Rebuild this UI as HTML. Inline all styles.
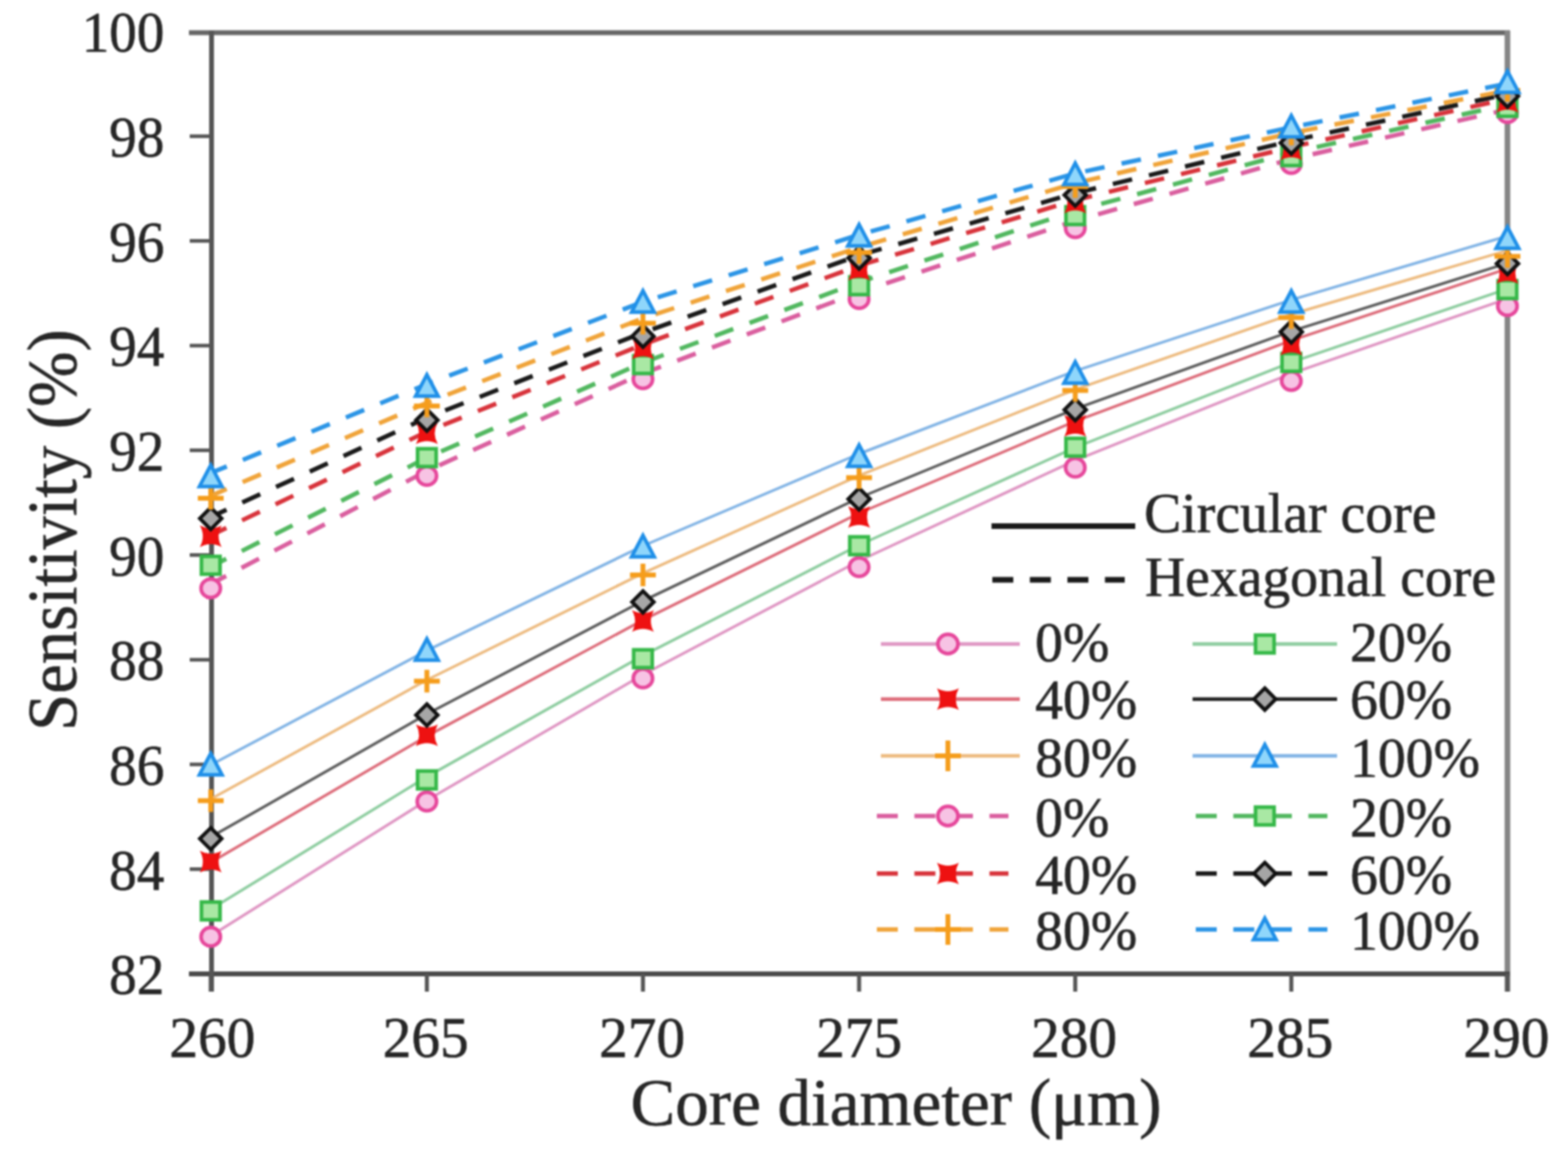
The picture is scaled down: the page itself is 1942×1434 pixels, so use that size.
<!DOCTYPE html>
<html><head><meta charset="utf-8"><title>Sensitivity vs core diameter</title>
<style>html,body{margin:0;padding:0;background:#fff;}svg{display:block;filter:blur(0.9px);}</style></head>
<body><svg width="1942" height="1434" viewBox="0 0 1942 1434"><g fill="none"><line x1="234" y1="40.5" x2="1870" y2="40.5" stroke="#666" stroke-width="6"/><line x1="1867" y1="38" x2="1867" y2="1228" stroke="#858585" stroke-width="7"/><line x1="234" y1="1206" x2="1870" y2="1206" stroke="#4a4a4a" stroke-width="6"/><line x1="262" y1="38" x2="262" y2="1228" stroke="#555" stroke-width="6"/><line x1="235" y1="168.7" x2="261" y2="168.7" stroke="#555" stroke-width="4.5"/><line x1="235" y1="298.3" x2="261" y2="298.3" stroke="#555" stroke-width="4.5"/><line x1="235" y1="428.0" x2="261" y2="428.0" stroke="#555" stroke-width="4.5"/><line x1="235" y1="557.6" x2="261" y2="557.6" stroke="#555" stroke-width="4.5"/><line x1="235" y1="687.3" x2="261" y2="687.3" stroke="#555" stroke-width="4.5"/><line x1="235" y1="817.0" x2="261" y2="817.0" stroke="#555" stroke-width="4.5"/><line x1="235" y1="946.6" x2="261" y2="946.6" stroke="#555" stroke-width="4.5"/><line x1="235" y1="1076.3" x2="261" y2="1076.3" stroke="#555" stroke-width="4.5"/><line x1="261.0" y1="1206" x2="261.0" y2="1228" stroke="#555" stroke-width="5"/><line x1="528.7" y1="1206" x2="528.7" y2="1228" stroke="#555" stroke-width="5"/><line x1="796.3" y1="1206" x2="796.3" y2="1228" stroke="#555" stroke-width="5"/><line x1="1064.0" y1="1206" x2="1064.0" y2="1228" stroke="#555" stroke-width="5"/><line x1="1331.7" y1="1206" x2="1331.7" y2="1228" stroke="#555" stroke-width="5"/><line x1="1599.3" y1="1206" x2="1599.3" y2="1228" stroke="#555" stroke-width="5"/><line x1="1867.0" y1="1206" x2="1867.0" y2="1228" stroke="#555" stroke-width="5"/></g><polyline points="261.0,1159.0 528.7,991.0 796.3,835.5 1064.0,694.5 1331.7,570.1 1599.3,462.7 1867.0,369.8" fill="none" stroke="#df96c3" stroke-width="3.5" stroke-linejoin="round"/><polyline points="261.0,1125.9 528.7,961.9 796.3,811.9 1064.0,675.0 1331.7,554.2 1599.3,448.6 1867.0,357.7" fill="none" stroke="#8ecda0" stroke-width="3.5" stroke-linejoin="round"/><polyline points="261.0,1067.9 528.7,911.6 796.3,767.9 1064.0,635.5 1331.7,521.7 1599.3,421.7 1867.0,332.7" fill="none" stroke="#dd6c7a" stroke-width="3.5" stroke-linejoin="round"/><polyline points="261.0,1036.6 528.7,884.3 796.3,744.1 1064.0,616.5 1331.7,506.4 1599.3,410.1 1867.0,325.9" fill="none" stroke="#5e5e5e" stroke-width="3.5" stroke-linejoin="round"/><polyline points="261.0,989.5 528.7,842.0 796.3,709.9 1064.0,588.9 1331.7,482.4 1599.3,389.2 1867.0,310.1" fill="none" stroke="#edbb80" stroke-width="3.5" stroke-linejoin="round"/><polyline points="261.0,947.2 528.7,805.6 796.3,676.0 1064.0,562.0 1331.7,459.3 1599.3,371.4 1867.0,292.3" fill="none" stroke="#82b4e5" stroke-width="3.5" stroke-linejoin="round"/><polyline points="261.0,723.2 528.7,583.1 796.3,462.5 1064.0,361.9 1331.7,273.5 1599.3,197.0 1867.0,135.7" fill="none" stroke="#da5f9f" stroke-width="5.5" stroke-dasharray="24.5 21.5" stroke-dashoffset="3"/><polyline points="261.0,701.7 528.7,566.8 796.3,449.1 1064.0,349.4 1331.7,261.1 1599.3,189.1 1867.0,129.4" fill="none" stroke="#52b860" stroke-width="5.5" stroke-dasharray="24.5 21.5" stroke-dashoffset="3"/><polyline points="261.0,663.0 528.7,534.5 796.3,426.6 1064.0,328.9 1331.7,247.8 1599.3,182.2 1867.0,122.3" fill="none" stroke="#d8343c" stroke-width="5.5" stroke-dasharray="24.5 21.5" stroke-dashoffset="3"/><polyline points="261.0,640.3 528.7,517.2 796.3,411.9 1064.0,316.2 1331.7,239.2 1599.3,174.4 1867.0,116.5" fill="none" stroke="#1a1a1a" stroke-width="5.5" stroke-dasharray="24.5 21.5" stroke-dashoffset="3"/><polyline points="261.0,614.1 528.7,498.8 796.3,394.2 1064.0,306.3 1331.7,226.8 1599.3,164.8 1867.0,112.0" fill="none" stroke="#f0a43a" stroke-width="5.5" stroke-dasharray="24.5 21.5" stroke-dashoffset="3"/><polyline points="261.0,585.8 528.7,475.7 796.3,373.8 1064.0,290.8 1331.7,214.8 1599.3,157.7 1867.0,103.4" fill="none" stroke="#2c95e6" stroke-width="5.5" stroke-dasharray="24.5 21.5" stroke-dashoffset="3"/><ellipse cx="261.0" cy="1160.0" rx="12" ry="11.5" fill="#f7c3e4" stroke="#e6479b" stroke-width="4.5"/><ellipse cx="528.7" cy="992.6" rx="12" ry="11.5" fill="#f7c3e4" stroke="#e6479b" stroke-width="4.5"/><ellipse cx="796.3" cy="840.0" rx="12" ry="11.5" fill="#f7c3e4" stroke="#e6479b" stroke-width="4.5"/><ellipse cx="1064.0" cy="702.3" rx="12" ry="11.5" fill="#f7c3e4" stroke="#e6479b" stroke-width="4.5"/><ellipse cx="1331.7" cy="579.0" rx="12" ry="11.5" fill="#f7c3e4" stroke="#e6479b" stroke-width="4.5"/><ellipse cx="1599.3" cy="471.8" rx="12" ry="11.5" fill="#f7c3e4" stroke="#e6479b" stroke-width="4.5"/><ellipse cx="1867.0" cy="379.0" rx="12" ry="11.5" fill="#f7c3e4" stroke="#e6479b" stroke-width="4.5"/><rect x="249.5" y="1117.0" width="23" height="22" fill="#a9e8a4" stroke="#35b848" stroke-width="4.5"/><rect x="517.2" y="954.8" width="23" height="22" fill="#a9e8a4" stroke="#35b848" stroke-width="4.5"/><rect x="784.8" y="804.7" width="23" height="22" fill="#a9e8a4" stroke="#35b848" stroke-width="4.5"/><rect x="1052.5" y="664.8" width="23" height="22" fill="#a9e8a4" stroke="#35b848" stroke-width="4.5"/><rect x="1320.2" y="542.8" width="23" height="22" fill="#a9e8a4" stroke="#35b848" stroke-width="4.5"/><rect x="1587.8" y="437.8" width="23" height="22" fill="#a9e8a4" stroke="#35b848" stroke-width="4.5"/><rect x="1855.5" y="347.6" width="23" height="22" fill="#a9e8a4" stroke="#35b848" stroke-width="4.5"/><path d="M247.5 1053.4Q261.0 1060.9 274.5 1053.4Q267.0 1066.9 274.5 1080.4Q261.0 1072.9 247.5 1080.4Q255.0 1066.9 247.5 1053.4Z" fill="#ee1111"/><path d="M515.2 897.0Q528.7 904.5 542.2 897.0Q534.7 910.5 542.2 924.0Q528.7 916.5 515.2 924.0Q522.7 910.5 515.2 897.0Z" fill="#ee1111"/><path d="M782.8 755.4Q796.3 762.9 809.8 755.4Q802.3 768.9 809.8 782.4Q796.3 774.9 782.8 782.4Q790.3 768.9 782.8 755.4Z" fill="#ee1111"/><path d="M1050.5 626.7Q1064.0 634.2 1077.5 626.7Q1070.0 640.2 1077.5 653.7Q1064.0 646.2 1050.5 653.7Q1058.0 640.2 1050.5 626.7Z" fill="#ee1111"/><path d="M1318.2 513.8Q1331.7 521.3 1345.2 513.8Q1337.7 527.3 1345.2 540.8Q1331.7 533.3 1318.2 540.8Q1325.7 527.3 1318.2 513.8Z" fill="#ee1111"/><path d="M1585.8 413.3Q1599.3 420.8 1612.8 413.3Q1605.3 426.8 1612.8 440.3Q1599.3 432.8 1585.8 440.3Q1593.3 426.8 1585.8 413.3Z" fill="#ee1111"/><path d="M1853.5 324.5Q1867.0 332.0 1880.5 324.5Q1873.0 338.0 1880.5 351.5Q1867.0 344.0 1853.5 351.5Q1861.0 338.0 1853.5 324.5Z" fill="#ee1111"/><path d="M261.0 1025.1L274.5 1038.6L261.0 1052.1L247.5 1038.6Z" fill="#a6a6a6" stroke="#111111" stroke-width="4.5"/><path d="M528.7 871.9L542.2 885.4L528.7 898.9L515.2 885.4Z" fill="#a6a6a6" stroke="#111111" stroke-width="4.5"/><path d="M796.3 731.9L809.8 745.4L796.3 758.9L782.8 745.4Z" fill="#a6a6a6" stroke="#111111" stroke-width="4.5"/><path d="M1064.0 604.4L1077.5 617.9L1064.0 631.4L1050.5 617.9Z" fill="#a6a6a6" stroke="#111111" stroke-width="4.5"/><path d="M1331.7 493.9L1345.2 507.4L1331.7 520.9L1318.2 507.4Z" fill="#a6a6a6" stroke="#111111" stroke-width="4.5"/><path d="M1599.3 397.5L1612.8 411.0L1599.3 424.5L1585.8 411.0Z" fill="#a6a6a6" stroke="#111111" stroke-width="4.5"/><path d="M1867.0 312.9L1880.5 326.4L1867.0 339.9L1853.5 326.4Z" fill="#a6a6a6" stroke="#111111" stroke-width="4.5"/><path d="M245.0 991.6H277.0M261.0 977.6V1005.6" stroke="#f59d1c" stroke-width="6"/><path d="M512.7 843.6H544.7M528.7 829.6V857.6" stroke="#f59d1c" stroke-width="6"/><path d="M780.3 712.0H812.3M796.3 698.0V726.0" stroke="#f59d1c" stroke-width="6"/><path d="M1048.0 591.4H1080.0M1064.0 577.4V605.4" stroke="#f59d1c" stroke-width="6"/><path d="M1315.7 483.6H1347.7M1331.7 469.6V497.6" stroke="#f59d1c" stroke-width="6"/><path d="M1583.3 393.3H1615.3M1599.3 379.3V407.3" stroke="#f59d1c" stroke-width="6"/><path d="M1851.0 317.6H1883.0M1867.0 303.6V331.6" stroke="#f59d1c" stroke-width="6"/><path d="M261.0 933.0L275.0 959.5L247.0 959.5Z" fill="#8fd6fb" stroke="#1f8fe8" stroke-width="4.5" stroke-linejoin="miter"/><path d="M528.7 791.0L542.7 817.5L514.7 817.5Z" fill="#8fd6fb" stroke="#1f8fe8" stroke-width="4.5" stroke-linejoin="miter"/><path d="M796.3 663.0L810.3 689.5L782.3 689.5Z" fill="#8fd6fb" stroke="#1f8fe8" stroke-width="4.5" stroke-linejoin="miter"/><path d="M1064.0 551.0L1078.0 577.5L1050.0 577.5Z" fill="#8fd6fb" stroke="#1f8fe8" stroke-width="4.5" stroke-linejoin="miter"/><path d="M1331.7 448.0L1345.7 474.5L1317.7 474.5Z" fill="#8fd6fb" stroke="#1f8fe8" stroke-width="4.5" stroke-linejoin="miter"/><path d="M1599.3 360.0L1613.3 386.5L1585.3 386.5Z" fill="#8fd6fb" stroke="#1f8fe8" stroke-width="4.5" stroke-linejoin="miter"/><path d="M1867.0 281.0L1881.0 307.5L1853.0 307.5Z" fill="#8fd6fb" stroke="#1f8fe8" stroke-width="4.5" stroke-linejoin="miter"/><ellipse cx="261.0" cy="728.6" rx="12" ry="11.5" fill="#f7c3e4" stroke="#e6479b" stroke-width="4.5"/><ellipse cx="528.7" cy="589.3" rx="12" ry="11.5" fill="#f7c3e4" stroke="#e6479b" stroke-width="4.5"/><ellipse cx="796.3" cy="469.4" rx="12" ry="11.5" fill="#f7c3e4" stroke="#e6479b" stroke-width="4.5"/><ellipse cx="1064.0" cy="370.3" rx="12" ry="11.5" fill="#f7c3e4" stroke="#e6479b" stroke-width="4.5"/><ellipse cx="1331.7" cy="282.4" rx="12" ry="11.5" fill="#f7c3e4" stroke="#e6479b" stroke-width="4.5"/><ellipse cx="1599.3" cy="203.0" rx="12" ry="11.5" fill="#f7c3e4" stroke="#e6479b" stroke-width="4.5"/><ellipse cx="1867.0" cy="140.0" rx="12" ry="11.5" fill="#f7c3e4" stroke="#e6479b" stroke-width="4.5"/><rect x="249.5" y="689.0" width="23" height="22" fill="#a9e8a4" stroke="#35b848" stroke-width="4.5"/><rect x="517.2" y="555.7" width="23" height="22" fill="#a9e8a4" stroke="#35b848" stroke-width="4.5"/><rect x="784.8" y="440.5" width="23" height="22" fill="#a9e8a4" stroke="#35b848" stroke-width="4.5"/><rect x="1052.5" y="342.8" width="23" height="22" fill="#a9e8a4" stroke="#35b848" stroke-width="4.5"/><rect x="1320.2" y="256.0" width="23" height="22" fill="#a9e8a4" stroke="#35b848" stroke-width="4.5"/><rect x="1587.8" y="183.0" width="23" height="22" fill="#a9e8a4" stroke="#35b848" stroke-width="4.5"/><rect x="1855.5" y="122.0" width="23" height="22" fill="#a9e8a4" stroke="#35b848" stroke-width="4.5"/><path d="M247.5 650.5Q261.0 658.0 274.5 650.5Q267.0 664.0 274.5 677.5Q261.0 670.0 247.5 677.5Q255.0 664.0 247.5 650.5Z" fill="#ee1111"/><path d="M515.2 523.1Q528.7 530.6 542.2 523.1Q534.7 536.6 542.2 550.1Q528.7 542.6 515.2 550.1Q522.7 536.6 515.2 523.1Z" fill="#ee1111"/><path d="M782.8 417.9Q796.3 425.4 809.8 417.9Q802.3 431.4 809.8 444.9Q796.3 437.4 782.8 444.9Q790.3 431.4 782.8 417.9Z" fill="#ee1111"/><path d="M1050.5 320.5Q1064.0 328.0 1077.5 320.5Q1070.0 334.0 1077.5 347.5Q1064.0 340.0 1050.5 347.5Q1058.0 334.0 1050.5 320.5Z" fill="#ee1111"/><path d="M1318.2 237.2Q1331.7 244.7 1345.2 237.2Q1337.7 250.7 1345.2 264.2Q1331.7 256.7 1318.2 264.2Q1325.7 250.7 1318.2 237.2Z" fill="#ee1111"/><path d="M1585.8 171.5Q1599.3 179.0 1612.8 171.5Q1605.3 185.0 1612.8 198.5Q1599.3 191.0 1585.8 198.5Q1593.3 185.0 1585.8 171.5Z" fill="#ee1111"/><path d="M1853.5 112.5Q1867.0 120.0 1880.5 112.5Q1873.0 126.0 1880.5 139.5Q1867.0 132.0 1853.5 139.5Q1861.0 126.0 1853.5 112.5Z" fill="#ee1111"/><path d="M261.0 628.5L274.5 642.0L261.0 655.5L247.5 642.0Z" fill="#a6a6a6" stroke="#111111" stroke-width="4.5"/><path d="M528.7 506.8L542.2 520.3L528.7 533.8L515.2 520.3Z" fill="#a6a6a6" stroke="#111111" stroke-width="4.5"/><path d="M796.3 402.9L809.8 416.4L796.3 429.9L782.8 416.4Z" fill="#a6a6a6" stroke="#111111" stroke-width="4.5"/><path d="M1064.0 306.1L1077.5 319.6L1064.0 333.1L1050.5 319.6Z" fill="#a6a6a6" stroke="#111111" stroke-width="4.5"/><path d="M1331.7 228.1L1345.2 241.6L1331.7 255.1L1318.2 241.6Z" fill="#a6a6a6" stroke="#111111" stroke-width="4.5"/><path d="M1599.3 163.5L1612.8 177.0L1599.3 190.5L1585.8 177.0Z" fill="#a6a6a6" stroke="#111111" stroke-width="4.5"/><path d="M1867.0 105.5L1880.5 119.0L1867.0 132.5L1853.5 119.0Z" fill="#a6a6a6" stroke="#111111" stroke-width="4.5"/><path d="M245.0 617.0H277.0M261.0 603.0V631.0" stroke="#f59d1c" stroke-width="6"/><path d="M512.7 502.7H544.7M528.7 488.7V516.7" stroke="#f59d1c" stroke-width="6"/><path d="M780.3 400.2H812.3M796.3 386.2V414.2" stroke="#f59d1c" stroke-width="6"/><path d="M1048.0 312.7H1080.0M1064.0 298.7V326.7" stroke="#f59d1c" stroke-width="6"/><path d="M1315.7 231.0H1347.7M1331.7 217.0V245.0" stroke="#f59d1c" stroke-width="6"/><path d="M1583.3 166.0H1615.3M1599.3 152.0V180.0" stroke="#f59d1c" stroke-width="6"/><path d="M1851.0 112.0H1883.0M1867.0 98.0V126.0" stroke="#f59d1c" stroke-width="6"/><path d="M261.0 576.0L275.0 602.5L247.0 602.5Z" fill="#8fd6fb" stroke="#1f8fe8" stroke-width="4.5" stroke-linejoin="miter"/><path d="M528.7 464.0L542.7 490.5L514.7 490.5Z" fill="#8fd6fb" stroke="#1f8fe8" stroke-width="4.5" stroke-linejoin="miter"/><path d="M796.3 360.0L810.3 386.5L782.3 386.5Z" fill="#8fd6fb" stroke="#1f8fe8" stroke-width="4.5" stroke-linejoin="miter"/><path d="M1064.0 278.0L1078.0 304.5L1050.0 304.5Z" fill="#8fd6fb" stroke="#1f8fe8" stroke-width="4.5" stroke-linejoin="miter"/><path d="M1331.7 202.0L1345.7 228.5L1317.7 228.5Z" fill="#8fd6fb" stroke="#1f8fe8" stroke-width="4.5" stroke-linejoin="miter"/><path d="M1599.3 143.0L1613.3 169.5L1585.3 169.5Z" fill="#8fd6fb" stroke="#1f8fe8" stroke-width="4.5" stroke-linejoin="miter"/><path d="M1867.0 88.0L1881.0 114.5L1853.0 114.5Z" fill="#8fd6fb" stroke="#1f8fe8" stroke-width="4.5" stroke-linejoin="miter"/><line x1="1228" y1="651.5" x2="1406" y2="651.5" stroke="#1a1a1a" stroke-width="7"/><line x1="1229" y1="718" x2="1393" y2="718" stroke="#1a1a1a" stroke-width="7" stroke-dasharray="26 20.5"/><line x1="1091" y1="797.5" x2="1263" y2="797.5" stroke="#df96c3" stroke-width="4.5"/><ellipse cx="1174.0" cy="797.5" rx="12.5" ry="12.0" fill="#f7c3e4" stroke="#e6479b" stroke-width="4.5"/><line x1="1477" y1="797.5" x2="1656" y2="797.5" stroke="#8ecda0" stroke-width="4.5"/><rect x="1555.0" y="786.5" width="23" height="22" fill="#a9e8a4" stroke="#35b848" stroke-width="4.5"/><line x1="1091" y1="865.7" x2="1263" y2="865.7" stroke="#dd6c7a" stroke-width="4.5"/><path d="M1160.5 852.2Q1174.0 859.7 1187.5 852.2Q1180.0 865.7 1187.5 879.2Q1174.0 871.7 1160.5 879.2Q1168.0 865.7 1160.5 852.2Z" fill="#ee1111"/><line x1="1477" y1="865.7" x2="1656" y2="865.7" stroke="#222" stroke-width="4.5"/><path d="M1566.5 852.2L1580.0 865.7L1566.5 879.2L1553.0 865.7Z" fill="#a6a6a6" stroke="#111111" stroke-width="4.5"/><line x1="1091" y1="936" x2="1263" y2="936" stroke="#edbb80" stroke-width="4.5"/><path d="M1158.0 936.0H1190.0M1174.0 917.0V955.0" stroke="#f59d1c" stroke-width="6"/><line x1="1477" y1="936" x2="1656" y2="936" stroke="#82b4e5" stroke-width="4.5"/><path d="M1566.5 922.0L1580.5 948.5L1552.5 948.5Z" fill="#8fd6fb" stroke="#1f8fe8" stroke-width="4.5" stroke-linejoin="miter"/><line x1="1086" y1="1010.5" x2="1249" y2="1010.5" stroke="#da5f9f" stroke-width="5.5" stroke-dasharray="26 20.5"/><ellipse cx="1174.0" cy="1010.5" rx="12.5" ry="12.0" fill="#f7c3e4" stroke="#e6479b" stroke-width="4.5"/><line x1="1481" y1="1010.5" x2="1644" y2="1010.5" stroke="#52b860" stroke-width="5.5" stroke-dasharray="26 20.5"/><rect x="1555.0" y="999.5" width="23" height="22" fill="#a9e8a4" stroke="#35b848" stroke-width="4.5"/><line x1="1086" y1="1081.7" x2="1249" y2="1081.7" stroke="#d8343c" stroke-width="5.5" stroke-dasharray="26 20.5"/><path d="M1160.5 1068.2Q1174.0 1075.7 1187.5 1068.2Q1180.0 1081.7 1187.5 1095.2Q1174.0 1087.7 1160.5 1095.2Q1168.0 1081.7 1160.5 1068.2Z" fill="#ee1111"/><line x1="1481" y1="1081.7" x2="1644" y2="1081.7" stroke="#1a1a1a" stroke-width="5.5" stroke-dasharray="26 20.5"/><path d="M1566.5 1068.2L1580.0 1081.7L1566.5 1095.2L1553.0 1081.7Z" fill="#a6a6a6" stroke="#111111" stroke-width="4.5"/><line x1="1086" y1="1151" x2="1249" y2="1151" stroke="#f0a43a" stroke-width="5.5" stroke-dasharray="26 20.5"/><path d="M1158.0 1151.0H1190.0M1174.0 1132.0V1170.0" stroke="#f59d1c" stroke-width="6"/><line x1="1481" y1="1151" x2="1644" y2="1151" stroke="#2c95e6" stroke-width="5.5" stroke-dasharray="26 20.5"/><path d="M1566.5 1137.0L1580.5 1163.5L1552.5 1163.5Z" fill="#8fd6fb" stroke="#1f8fe8" stroke-width="4.5" stroke-linejoin="miter"/><g fill="#262626" stroke="#262626" stroke-width="0.7"><text x="0" y="64.3" transform="translate(203.5,0) scale(0.96,1)" text-anchor="end" font-size="71" font-family="Liberation Serif, Times New Roman, serif">100</text><text x="0" y="194.0" transform="translate(203.5,0) scale(0.96,1)" text-anchor="end" font-size="71" font-family="Liberation Serif, Times New Roman, serif">98</text><text x="0" y="323.6" transform="translate(203.5,0) scale(0.96,1)" text-anchor="end" font-size="71" font-family="Liberation Serif, Times New Roman, serif">96</text><text x="0" y="453.3" transform="translate(203.5,0) scale(0.96,1)" text-anchor="end" font-size="71" font-family="Liberation Serif, Times New Roman, serif">94</text><text x="0" y="582.9" transform="translate(203.5,0) scale(0.96,1)" text-anchor="end" font-size="71" font-family="Liberation Serif, Times New Roman, serif">92</text><text x="0" y="712.6" transform="translate(203.5,0) scale(0.96,1)" text-anchor="end" font-size="71" font-family="Liberation Serif, Times New Roman, serif">90</text><text x="0" y="842.3" transform="translate(203.5,0) scale(0.96,1)" text-anchor="end" font-size="71" font-family="Liberation Serif, Times New Roman, serif">88</text><text x="0" y="971.9" transform="translate(203.5,0) scale(0.96,1)" text-anchor="end" font-size="71" font-family="Liberation Serif, Times New Roman, serif">86</text><text x="0" y="1101.6" transform="translate(203.5,0) scale(0.96,1)" text-anchor="end" font-size="71" font-family="Liberation Serif, Times New Roman, serif">84</text><text x="0" y="1231.2" transform="translate(203.5,0) scale(0.96,1)" text-anchor="end" font-size="71" font-family="Liberation Serif, Times New Roman, serif">82</text><text x="263.0" y="1309" text-anchor="middle" font-size="71" font-family="Liberation Serif, Times New Roman, serif">260</text><text x="527.2" y="1309" text-anchor="middle" font-size="71" font-family="Liberation Serif, Times New Roman, serif">265</text><text x="795.3" y="1309" text-anchor="middle" font-size="71" font-family="Liberation Serif, Times New Roman, serif">270</text><text x="1064.0" y="1309" text-anchor="middle" font-size="71" font-family="Liberation Serif, Times New Roman, serif">275</text><text x="1330.2" y="1309" text-anchor="middle" font-size="71" font-family="Liberation Serif, Times New Roman, serif">280</text><text x="1598.0" y="1309" text-anchor="middle" font-size="71" font-family="Liberation Serif, Times New Roman, serif">285</text><text x="1865.7" y="1309" text-anchor="middle" font-size="71" font-family="Liberation Serif, Times New Roman, serif">290</text><text x="781" y="1393" font-size="83" font-family="Liberation Serif, Times New Roman, serif">Core diameter (μm)</text><text transform="translate(94,905) rotate(-90) scale(1,1.05)" x="0" y="0" font-size="82.5" font-family="Liberation Serif, Times New Roman, serif">Sensitivity (%)</text><text x="1417" y="659" font-size="69" font-family="Liberation Serif, Times New Roman, serif">Circular core</text><text x="1418" y="738" font-size="69" font-family="Liberation Serif, Times New Roman, serif">Hexagonal core</text><text x="1282" y="818.6" font-size="69" font-family="Liberation Serif, Times New Roman, serif">0%</text><text x="1672" y="818.6" font-size="69" font-family="Liberation Serif, Times New Roman, serif">20%</text><text x="1282" y="890.4" font-size="69" font-family="Liberation Serif, Times New Roman, serif">40%</text><text x="1672" y="890.4" font-size="69" font-family="Liberation Serif, Times New Roman, serif">60%</text><text x="1282" y="962.2" font-size="69" font-family="Liberation Serif, Times New Roman, serif">80%</text><text x="1672" y="962.2" font-size="69" font-family="Liberation Serif, Times New Roman, serif">100%</text><text x="1282" y="1035.5" font-size="69" font-family="Liberation Serif, Times New Roman, serif">0%</text><text x="1672" y="1035.5" font-size="69" font-family="Liberation Serif, Times New Roman, serif">20%</text><text x="1282" y="1107.3" font-size="69" font-family="Liberation Serif, Times New Roman, serif">40%</text><text x="1672" y="1107.3" font-size="69" font-family="Liberation Serif, Times New Roman, serif">60%</text><text x="1282" y="1176" font-size="69" font-family="Liberation Serif, Times New Roman, serif">80%</text><text x="1672" y="1176" font-size="69" font-family="Liberation Serif, Times New Roman, serif">100%</text></g></svg></body></html>
